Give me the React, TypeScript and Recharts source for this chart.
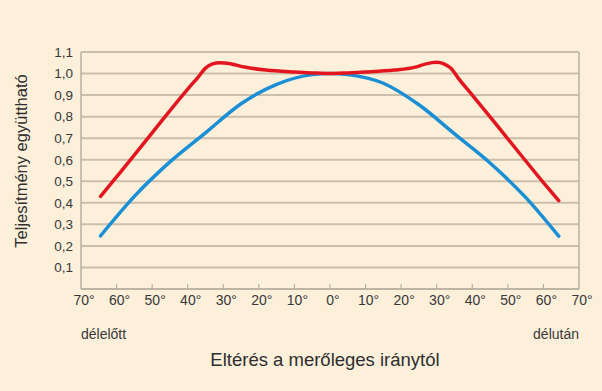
import React from 'react';
import { LineChart, Line, XAxis, YAxis, CartesianGrid, ReferenceLine } from 'recharts';

const redAngles = [-64.5, -60, -50, -40, -37, -35, -33, -31, -28, -24, -18, -10, -5, 0, 5, 10, 18, 24, 27, 30, 32, 34, 36, 40, 50, 60, 64.3];
const redValues = [0.43, 0.52, 0.725, 0.928, 0.985, 1.025, 1.045, 1.05, 1.045, 1.03, 1.016, 1.007, 1.003, 1.0, 1.003, 1.007, 1.016, 1.03, 1.045, 1.052, 1.045, 1.025, 0.98, 0.9, 0.697, 0.494, 0.41];
const blueAngles = [-64.5, -55, -45, -35, -25, -15, -5, 0, 5, 15, 25, 35, 45, 55, 64.3];
const blueValues = [0.247, 0.43, 0.59, 0.725, 0.86, 0.95, 0.995, 1.0, 0.995, 0.955, 0.855, 0.72, 0.585, 0.425, 0.245];
const xTicks = [-70, -60, -50, -40, -30, -20, -10, 0, 10, 20, 30, 40, 50, 60, 70];
const yTicks = [0.1, 0.2, 0.3, 0.4, 0.5, 0.6, 0.7, 0.8, 0.9, 1.0, 1.1];
const yAxisTitle = 'Teljesítmény együttható';
const xAxisTitle = 'Eltérés a merőleges iránytól';
const leftNote = 'délelőtt';
const rightNote = 'délután';

const redData = redAngles.map((a, i) => ({ angle: a, red: redValues[i] }));
const blueData = blueAngles.map((a, i) => ({ angle: a, blue: blueValues[i] }));

const FONT = '"Liberation Sans", Arial, sans-serif';
const GRID = '#cbbfab';
const BORDER = '#b9b0a2';
const TEXT = '#383838';

const XTick = (props: any) => {
  const { x, y, payload } = props;
  const axisY = y - 6 - 4;
  const v = payload.value as number;
  const showLine = Math.abs(v) !== 70;
  return (
    <g>
      {showLine && <line x1={x} x2={x} y1={axisY} y2={axisY - 5} stroke={BORDER} strokeWidth={1.2} />}
      <text x={x + 3} y={y + 6} textAnchor="middle" fill={TEXT} fontSize={14} fontFamily={FONT}>
        {Math.abs(v)}°
      </text>
    </g>
  );
};

export default function App() {
  return (
    <div style={{ position: 'absolute', left: 0, top: 0, width: 602, height: 391, background: '#fcf0db', fontFamily: FONT }}>
      <LineChart width={602} height={391} margin={{ top: 52, right: 23, bottom: 72, left: 0 }}>
        <CartesianGrid vertical={false} stroke={GRID} strokeWidth={2} />
        <XAxis
          dataKey="angle"
          type="number"
          domain={[-70, 70]}
          ticks={xTicks}
          height={30}
          tickLine={false}
          axisLine={{ stroke: BORDER, strokeWidth: 1.5 }}
          tick={<XTick />}
          tickSize={6}
          tickMargin={4}
          interval={0}
          allowDuplicatedCategory={false}
        />
        <YAxis
          type="number"
          domain={[0, 1.1]}
          ticks={yTicks}
          width={81}
          tickLine={false}
          axisLine={false}
          tickFormatter={(v: number) => v.toFixed(1).replace('.', ',')}
          tick={{ fill: TEXT, fontSize: 13.5, fontFamily: FONT }}
          interval={0}
        />
        <ReferenceLine x={-70} stroke={BORDER} strokeWidth={1.5} />
        <ReferenceLine x={70} stroke={BORDER} strokeWidth={1.5} />
        <Line data={blueData} type="monotone" dataKey="blue" stroke="#1b8fd6" strokeWidth={3.5} dot={false} isAnimationActive={false} strokeLinecap="round" />
        <Line data={redData} type="monotone" dataKey="red" stroke="#e3161f" strokeWidth={3.5} dot={false} isAnimationActive={false} strokeLinecap="round" />
        <text x={21} y={161} transform="rotate(-90 21 161)" textAnchor="middle" dominantBaseline="central" fill="#2e2e2e" fontSize={16.5} fontFamily={FONT}>
          {yAxisTitle}
        </text>
        <text x={81} y={339} textAnchor="start" fill={TEXT} fontSize={14} fontFamily={FONT}>
          {leftNote}
        </text>
        <text x={579} y={339} textAnchor="end" fill={TEXT} fontSize={14} fontFamily={FONT}>
          {rightNote}
        </text>
        <text x={325} y={366} textAnchor="middle" fill="#2e2e2e" fontSize={18.5} fontFamily={FONT}>
          {xAxisTitle}
        </text>
      </LineChart>
    </div>
  );
}
